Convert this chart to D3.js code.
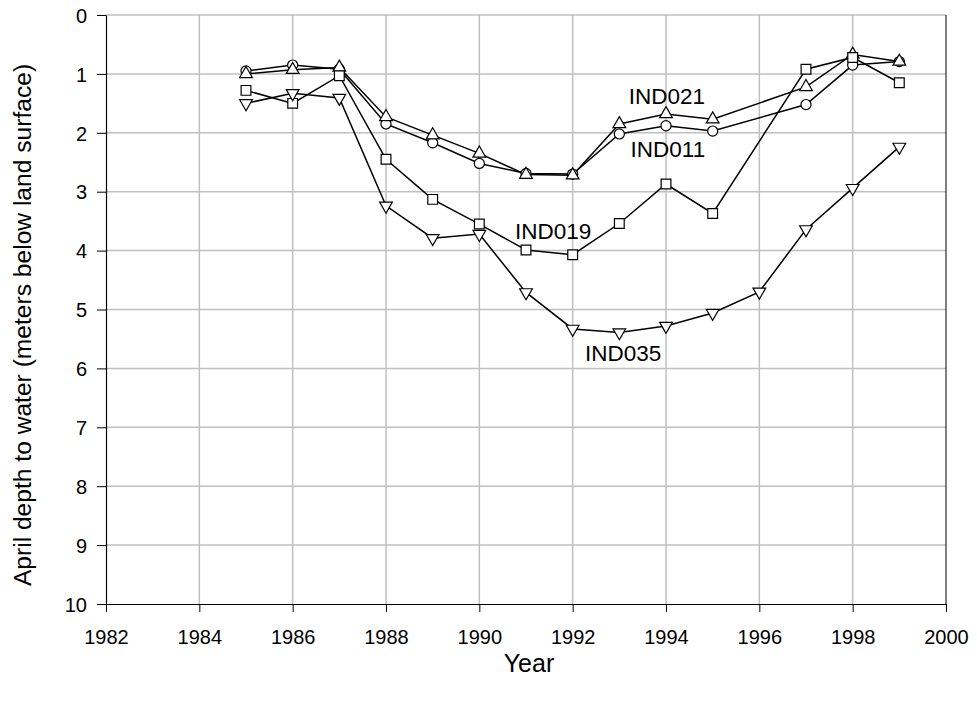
<!DOCTYPE html>
<html>
<head>
<meta charset="utf-8">
<script src="https://cdn.jsdelivr.net/npm/d3@7"></script>
<style>
  body { margin: 0; background: #fff; }
  svg { display: block; font-family: Arial, "Liberation Sans", sans-serif; }
</style>
</head>
<body>
<svg id="chart" width="977" height="702"></svg>
<script>
const years = [1985, 1986, 1987, 1988, 1989, 1990, 1991, 1992, 1993, 1994, 1995, 1996, 1997, 1998, 1999];
const ind011 = [0.95, 0.85, 0.92, 1.85, 2.17, 2.52, 2.69, 2.70, 2.02, 1.88, 1.97, null, 1.52, 0.85, 0.79];
const ind021 = [1.00, 0.93, 0.89, 1.73, 2.04, 2.35, 2.71, 2.72, 1.85, 1.68, 1.77, null, 1.22, 0.67, 0.79];
const ind019 = [1.28, 1.50, 1.03, 2.45, 3.13, 3.55, 3.99, 4.07, 3.54, 2.87, 3.37, null, 0.92, 0.72, 1.15];
const ind035 = [1.50, 1.33, 1.41, 3.24, 3.79, 3.72, 4.71, 5.33, 5.39, 5.28, 5.06, 4.70, 3.64, 2.94, 2.24];
const xTicks = [1982, 1984, 1986, 1988, 1990, 1992, 1994, 1996, 1998, 2000];
const yTicks = [0, 1, 2, 3, 4, 5, 6, 7, 8, 9, 10];
const seriesNames = ["IND011", "IND021", "IND019", "IND035"];
const labels = [
  {name: "IND021", year: 1994.02, depth: 1.39},
  {name: "IND011", year: 1994.04, depth: 2.28},
  {name: "IND019", year: 1991.58, depth: 3.68},
  {name: "IND035", year: 1993.08, depth: 5.74}
];

const svg = d3.select("#chart");
const x = d3.scaleLinear().domain([1982, 2000]).range([106, 946]);
const y = d3.scaleLinear().domain([0, 10]).range([15, 604]);

// gridlines
const grid = svg.append("g");
grid.selectAll("line.v").data(xTicks.filter(d => d > 1982 && d < 2000)).join("line")
  .attr("x1", d => x(d)).attr("x2", d => x(d)).attr("y1", y(0)).attr("y2", y(10))
  .attr("stroke", "#c0c0c0").attr("stroke-width", 1.5);
grid.selectAll("line.h").data(yTicks.filter(d => d < 10)).join("line")
  .attr("x1", x(1982)).attr("x2", x(2000)).attr("y1", d => y(d)).attr("y2", d => y(d))
  .attr("stroke", "#c0c0c0").attr("stroke-width", 1.5);
// right border
svg.append("line").attr("x1", x(2000)).attr("x2", x(2000)).attr("y1", y(0)).attr("y2", y(10))
  .attr("stroke", "#000").attr("stroke-width", 1);

// axes
const xAxis = svg.append("g").attr("transform", `translate(0,${y(10)})`)
  .call(d3.axisBottom(x).tickValues(xTicks).tickFormat(d3.format("d")).tickSize(8).tickSizeOuter(0));
const yAxis = svg.append("g").attr("transform", `translate(${x(1982)},0)`)
  .call(d3.axisLeft(y).tickValues(yTicks).tickFormat(d3.format("d")).tickSize(9).tickSizeOuter(0));
[xAxis, yAxis].forEach(a => {
  a.attr("font-size", 20).attr("font-family", "Arial, 'Liberation Sans', sans-serif");
  a.select(".domain").attr("stroke", "#000").attr("stroke-width", 1.2);
  a.selectAll(".tick line").attr("stroke", "#000").attr("stroke-width", 1);
  a.selectAll(".tick text").attr("fill", "#000");
});
xAxis.selectAll(".tick text").attr("dy", "1.45em");
yAxis.selectAll(".tick text").attr("dx", "-7").attr("dy", "0.36em");

// titles
svg.append("text").attr("x", 529).attr("y", 672).attr("text-anchor", "middle")
  .attr("font-size", 25).text("Year");
svg.append("text").attr("transform", `translate(31,325) rotate(-90)`)
  .attr("text-anchor", "middle").attr("font-size", 24.6)
  .text("April depth to water (meters below land surface)");

// series
const data = [ind011, ind021, ind019, ind035];
const symbols = [
  {type: d3.symbolCircle, size: 80, rot: 0},
  {type: d3.symbolTriangle, size: 70, rot: 0},
  {type: d3.symbolSquare, size: 95, rot: 0},
  {type: d3.symbolTriangle, size: 70, rot: 180}
];
const line = d3.line().x(d => x(d.yr)).y(d => y(d.v));
data.forEach((vals, i) => {
  const pts = years.map((yr, j) => ({yr, v: vals[j]})).filter(d => d.v != null);
  svg.append("path").datum(pts).attr("d", line)
    .attr("fill", "none").attr("stroke", "#000").attr("stroke-width", 1.5);
});
data.forEach((vals, i) => {
  const pts = years.map((yr, j) => ({yr, v: vals[j]})).filter(d => d.v != null);
  const s = symbols[i];
  svg.append("g").selectAll("path").data(pts).join("path")
    .attr("d", d3.symbol().type(s.type).size(s.size)())
    .attr("transform", d => `translate(${x(d.yr)},${y(d.v)}) rotate(${s.rot})`)
    .attr("fill", "#fff").attr("stroke", "#000").attr("stroke-width", 1.2);
});

// labels
svg.append("g").selectAll("text").data(labels).join("text")
  .attr("x", d => x(d.year)).attr("y", d => y(d.depth))
  .attr("text-anchor", "middle").attr("dominant-baseline", "central")
  .attr("font-size", 22.5).text(d => d.name);
</script>
</body>
</html>
